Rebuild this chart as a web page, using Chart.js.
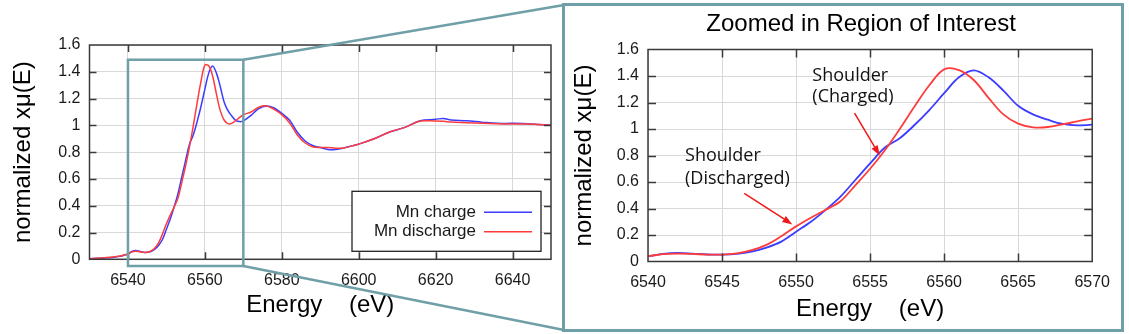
<!DOCTYPE html>
<html>
<head>
<meta charset="utf-8">
<script src="https://cdn.jsdelivr.net/npm/chart.js@4.4.0/dist/chart.umd.min.js"></script>
<style>
  html, body { margin: 0; padding: 0; background: #fff; }
  body { width: 1129px; height: 334px; position: relative; overflow: hidden; }
  #mainChart { position: absolute; left: 0; top: 0; }
  #zoomBox { position: absolute; left: 562px; top: 3px; width: 556px; height: 323px; border: 3px solid #6f9fa7; }
  #zoomChart { position: absolute; left: 565px; top: 6px; }
</style>
</head>
<body>
<canvas id="mainChart" width="566" height="334"></canvas>
<div id="zoomBox"></div>
<canvas id="zoomChart" width="556" height="323"></canvas>
<script>
// Energy grid (eV) shared by both spectra
const energy = [
  6530, 6532, 6534, 6536, 6538, 6539, 6540, 6541, 6542, 6543, 6544, 6545, 6546, 6547, 6548, 6549,
  6550, 6551, 6552, 6553, 6554, 6555, 6556, 6557, 6558, 6559, 6560, 6561, 6562, 6563, 6564, 6565,
  6566, 6567, 6568, 6569, 6570, 6572, 6574, 6576, 6578, 6580, 6582, 6584, 6586, 6588, 6590, 6592,
  6594, 6596, 6598, 6600, 6604, 6608, 6612, 6616, 6620, 6622, 6624, 6628, 6632, 6636, 6640, 6644, 6650
];
// normalized xmu(E), Mn charge
const charge = [
  0.005, 0.007, 0.010, 0.014, 0.022, 0.030, 0.040, 0.058, 0.065, 0.060, 0.053, 0.052, 0.058, 0.075, 0.105, 0.150,
  0.225, 0.300, 0.390, 0.490, 0.615, 0.740, 0.860, 0.930, 1.030, 1.143, 1.270, 1.390, 1.443, 1.390, 1.290, 1.175,
  1.110, 1.070, 1.038, 1.028, 1.033, 1.075, 1.125, 1.145, 1.130, 1.090, 1.040, 0.950, 0.885, 0.850, 0.835, 0.820,
  0.820, 0.830, 0.845, 0.860, 0.900, 0.950, 0.985, 1.035, 1.045, 1.052, 1.040, 1.034, 1.024, 1.015, 1.015, 1.012, 1.000
];
// normalized xmu(E), Mn discharge
const discharge = [
  0.005, 0.008, 0.012, 0.017, 0.025, 0.032, 0.040, 0.055, 0.060, 0.057, 0.052, 0.052, 0.062, 0.085, 0.125, 0.190,
  0.265, 0.330, 0.390, 0.455, 0.575, 0.700, 0.840, 1.000, 1.170, 1.330, 1.450, 1.445, 1.370, 1.235, 1.110, 1.040,
  1.013, 1.015, 1.035, 1.058, 1.079, 1.100, 1.135, 1.145, 1.120, 1.080, 1.020, 0.930, 0.870, 0.840, 0.835, 0.835,
  0.830, 0.830, 0.845, 0.860, 0.900, 0.950, 0.985, 1.032, 1.032, 1.030, 1.025, 1.020, 1.015, 1.012, 1.010, 1.010, 1.000
];
const seriesNames = ['Mn charge', 'Mn discharge'];
const seriesColors = ['rgb(60,60,255)', 'rgb(255,60,60)'];

// tick labels
const mainXTicks = [6540, 6560, 6580, 6600, 6620, 6640];
const zoomXTicks = [6540, 6545, 6550, 6555, 6560, 6565, 6570];
const yTicks = [0, 0.2, 0.4, 0.6, 0.8, 1, 1.2, 1.4, 1.6];

// zoomed window (eV, and the y span of the marker box)
const zoomX = [6540, 6570];
const zoomY = [-0.05, 1.49];

// annotations on the zoomed chart, in data units
const notes = [
  { x: 6551.1, y: [1.40, 1.24], lines: ['Shoulder', '(Charged)'] },
  { x: 6542.5, y: [0.795, 0.62], lines: ['Shoulder', '(Discharged)'] }
];
const arrows = [
  { from: [6553.95, 1.12], to: [6555.65, 0.80] },
  { from: [6546.5, 0.515], to: [6549.75, 0.28] }
];

const TEAL = '#6f9fa7';
const FONT = '"Liberation Sans", Arial, sans-serif';
const TEXT = '#1a1a1a';

function makeData() {
  return {
    datasets: [
      {
        label: seriesNames[0],
        data: energy.map((e, i) => ({ x: e, y: charge[i] })),
        borderColor: seriesColors[0],
        order: 2
      },
      {
        label: seriesNames[1],
        data: energy.map((e, i) => ({ x: e, y: discharge[i] })),
        borderColor: seriesColors[1],
        order: 1
      }
    ]
  };
}

// gnuplot-like frame with inward ticks on all four sides
const framePlugin = {
  id: 'frame',
  afterDatasetsDraw(chart, args, opts) {
    const { ctx, chartArea: a, scales: { x, y } } = chart;
    const len = opts.tick || 8;
    ctx.save();
    ctx.strokeStyle = '#3a3a3a';
    ctx.lineWidth = 1.5;
    ctx.beginPath();
    x.ticks.forEach(t => {
      const px = Math.round(x.getPixelForValue(t.value)) + 0.5;
      if (px <= a.left + 2 || px >= a.right - 2) return;
      ctx.moveTo(px, a.bottom); ctx.lineTo(px, a.bottom - len);
      ctx.moveTo(px, a.top); ctx.lineTo(px, a.top + len);
    });
    y.ticks.forEach(t => {
      const py = Math.round(y.getPixelForValue(t.value)) + 0.5;
      if (py <= a.top + 2 || py >= a.bottom - 2) return;
      ctx.moveTo(a.left, py); ctx.lineTo(a.left + len, py);
      ctx.moveTo(a.right, py); ctx.lineTo(a.right - len, py);
    });
    ctx.stroke();
    ctx.strokeRect(a.left, a.top, a.right - a.left, a.bottom - a.top);
    ctx.restore();
  }
};

// marker box on the main chart plus the connectors to the zoom panel
const zoomMarkPlugin = {
  id: 'zoomMark',
  afterDraw(chart) {
    const { ctx, scales: { x, y } } = chart;
    const x0 = x.getPixelForValue(zoomX[0]), x1 = x.getPixelForValue(zoomX[1]);
    const y0 = y.getPixelForValue(zoomY[1]), y1 = y.getPixelForValue(zoomY[0]);
    const box = document.getElementById('zoomBox').getBoundingClientRect();
    const cv = chart.canvas.getBoundingClientRect();
    const bx = box.left - cv.left + 2;
    ctx.save();
    ctx.strokeStyle = TEAL;
    ctx.lineWidth = 2.5;
    ctx.strokeRect(x0, y0, x1 - x0, y1 - y0);
    ctx.beginPath();
    ctx.moveTo(x1, y0); ctx.lineTo(bx, box.top - cv.top + 2);
    ctx.moveTo(x1, y1); ctx.lineTo(bx, box.bottom - cv.top - 2);
    ctx.stroke();
    ctx.restore();
  }
};

// legend: text on the left, line sample on the right, boxed
const legendPlugin = {
  id: 'boxLegend',
  afterDraw(chart) {
    const { ctx, chartArea: a } = chart;
    const w = 189, h = 60;
    const bx = a.right - 10 - w, by = a.bottom - 8 - h;
    ctx.save();
    ctx.fillStyle = '#fff';
    ctx.fillRect(bx, by, w, h);
    ctx.strokeStyle = '#222';
    ctx.lineWidth = 1.3;
    ctx.strokeRect(bx, by, w, h);
    ctx.font = '17px ' + FONT;
    ctx.textAlign = 'right';
    ctx.textBaseline = 'middle';
    chart.data.datasets.forEach((ds, i) => {
      const ry = by + 21 + i * 19.5;
      ctx.fillStyle = TEXT;
      ctx.fillText(ds.label, bx + 124, ry);
      ctx.strokeStyle = ds.borderColor;
      ctx.lineWidth = 1.6;
      ctx.beginPath();
      ctx.moveTo(bx + 132, ry); ctx.lineTo(bx + 180, ry);
      ctx.stroke();
    });
    ctx.restore();
  }
};

// title and shoulder annotations of the zoom panel
const notesPlugin = {
  id: 'notes',
  afterDraw(chart) {
    const { ctx, chartArea: a, scales: { x, y } } = chart;
    ctx.save();
    ctx.fillStyle = '#000';
    ctx.font = '24px ' + FONT;
    ctx.textAlign = 'center';
    ctx.textBaseline = 'middle';
    ctx.fillText('Zoomed in Region of Interest', (a.left + a.right) / 2 - 9, 18);

    ctx.font = '18px "Open Sans", sans-serif';
    ctx.textAlign = 'left';
    ctx.fillStyle = '#111';
    notes.forEach(n => n.lines.forEach((s, i) => {
      ctx.fillText(s, x.getPixelForValue(n.x), y.getPixelForValue(n.y[i]));
    }));

    ctx.strokeStyle = '#f01818';
    ctx.fillStyle = '#f01818';
    ctx.lineWidth = 1.5;
    arrows.forEach(ar => {
      const fx = x.getPixelForValue(ar.from[0]), fy = y.getPixelForValue(ar.from[1]);
      const tx = x.getPixelForValue(ar.to[0]), ty = y.getPixelForValue(ar.to[1]);
      const ang = Math.atan2(ty - fy, tx - fx);
      const hl = 10, hw = 3.5;
      const bxp = tx - hl * Math.cos(ang), byp = ty - hl * Math.sin(ang);
      ctx.beginPath();
      ctx.moveTo(fx, fy); ctx.lineTo(bxp, byp);
      ctx.stroke();
      ctx.beginPath();
      ctx.moveTo(tx, ty);
      ctx.lineTo(bxp + hw * Math.sin(ang), byp - hw * Math.cos(ang));
      ctx.lineTo(bxp - hw * Math.sin(ang), byp + hw * Math.cos(ang));
      ctx.closePath();
      ctx.fill();
    });
    ctx.restore();
  }
};

function baseOptions(cfg) {
  return {
    responsive: false,
    animation: false,
    layout: { padding: { top: cfg.top, right: cfg.right, left: 0, bottom: 0 } },
    elements: {
      line: { borderWidth: cfg.lineWidth, tension: 0.35, fill: false },
      point: { radius: 0 }
    },
    plugins: {
      legend: { display: false },
      tooltip: { enabled: false },
      frame: { tick: cfg.tick }
    },
    scales: {
      x: {
        type: 'linear',
        min: cfg.xMin,
        max: cfg.xMax,
        afterBuildTicks: s => { s.ticks = cfg.xTicks.map(v => ({ value: v })); },
        afterFit: s => { s.height = cfg.xHeight; },
        border: { display: false },
        grid: { color: '#d9d9d9', lineWidth: 1, drawTicks: false },
        ticks: {
          autoSkip: false,
          maxRotation: 0,
          padding: cfg.xPad,
          color: TEXT,
          font: { family: FONT, size: 16 },
          callback: v => String(v)
        },
        title: {
          display: true,
          text: 'Energy    (eV)',
          color: '#000',
          font: { family: FONT, size: 24 },
          padding: { top: 0, bottom: cfg.xTitlePad }
        }
      },
      y: {
        min: 0,
        max: 1.6,
        afterBuildTicks: s => { s.ticks = yTicks.map(v => ({ value: v })); },
        afterFit: s => { s.width = cfg.yWidth; },
        border: { display: false },
        grid: { color: '#d9d9d9', lineWidth: 1, drawTicks: false },
        ticks: {
          padding: 9,
          color: TEXT,
          font: { family: FONT, size: 16 },
          callback: v => String(+v.toFixed(1))
        },
        title: {
          display: true,
          text: 'normalized xμ(E)',
          color: '#000',
          font: { family: FONT, size: 24 },
          padding: { top: cfg.yTitlePad, bottom: 0 }
        }
      }
    }
  };
}

new Chart(document.getElementById('mainChart'), {
  type: 'line',
  data: makeData(),
  options: baseOptions({
    top: 45, right: 15, yWidth: 89.5, xHeight: 74.7,
    xMin: 6530, xMax: 6650, xTicks: mainXTicks, xPad: 12, xTitlePad: 14.5, yTitlePad: 9,
    lineWidth: 1.5, tick: 7
  }),
  plugins: [framePlugin, zoomMarkPlugin, legendPlugin]
});

new Chart(document.getElementById('zoomChart'), {
  type: 'line',
  data: makeData(),
  options: baseOptions({
    top: 43.5, right: 26, yWidth: 83, xHeight: 67.5,
    xMin: zoomX[0], xMax: zoomX[1], xTicks: zoomXTicks, xPad: 11, xTitlePad: 5.5, yTitlePad: 4.5,
    lineWidth: 1.8, tick: 8
  }),
  plugins: [framePlugin, notesPlugin]
});
</script>
</body>
</html>
